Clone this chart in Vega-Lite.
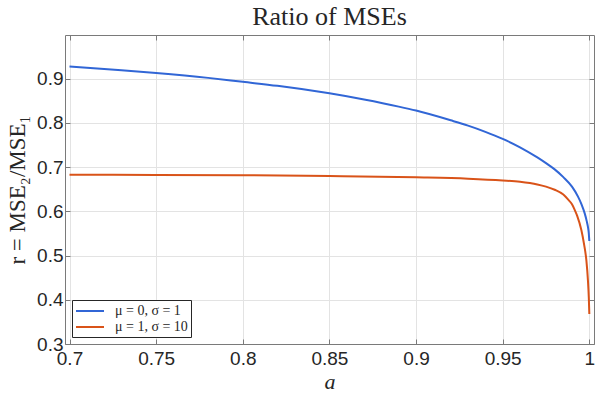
{
  "$schema": "https://vega.github.io/schema/vega-lite/v6.json",
  "autosize": "none",
  "width": 529,
  "height": 309,
  "padding": {"left": 65, "top": 35, "right": 1, "bottom": 52},
  "background": "white",
  "title": {"text": "Ratio of MSEs", "font": "Liberation Serif", "fontSize": 26, "fontWeight": "normal", "color": "#262626", "anchor": "middle", "offset": 5},
  "config": {
    "view": {"stroke": null},
    "axis": {"domainColor": "#7a7a7a", "tickColor": "#7a7a7a", "gridColor": "#e3e3e3", "labelColor": "#262626", "labelFont": "Liberation Sans", "labelFontSize": 19, "titleColor": "#262626", "tickSize": -5, "domainWidth": 1, "tickWidth": 1}
  },
  "data": {"values": [
    {"a": 0.70, "r": 0.928, "s": "μ = 0, σ = 1"},
    {"a": 0.72, "r": 0.922, "s": "μ = 0, σ = 1"},
    {"a": 0.75, "r": 0.913, "s": "μ = 0, σ = 1"},
    {"a": 0.78, "r": 0.902, "s": "μ = 0, σ = 1"},
    {"a": 0.80, "r": 0.893, "s": "μ = 0, σ = 1"},
    {"a": 0.82, "r": 0.884, "s": "μ = 0, σ = 1"},
    {"a": 0.85, "r": 0.867, "s": "μ = 0, σ = 1"},
    {"a": 0.87, "r": 0.853, "s": "μ = 0, σ = 1"},
    {"a": 0.89, "r": 0.837, "s": "μ = 0, σ = 1"},
    {"a": 0.90, "r": 0.828, "s": "μ = 0, σ = 1"},
    {"a": 0.92, "r": 0.806, "s": "μ = 0, σ = 1"},
    {"a": 0.93, "r": 0.794, "s": "μ = 0, σ = 1"},
    {"a": 0.94, "r": 0.780, "s": "μ = 0, σ = 1"},
    {"a": 0.95, "r": 0.764, "s": "μ = 0, σ = 1"},
    {"a": 0.96, "r": 0.745, "s": "μ = 0, σ = 1"},
    {"a": 0.97, "r": 0.722, "s": "μ = 0, σ = 1"},
    {"a": 0.975, "r": 0.709, "s": "μ = 0, σ = 1"},
    {"a": 0.98, "r": 0.695, "s": "μ = 0, σ = 1"},
    {"a": 0.985, "r": 0.6775, "s": "μ = 0, σ = 1"},
    {"a": 0.99, "r": 0.656, "s": "μ = 0, σ = 1"},
    {"a": 0.9934, "r": 0.634, "s": "μ = 0, σ = 1"},
    {"a": 0.9955, "r": 0.616, "s": "μ = 0, σ = 1"},
    {"a": 0.9973, "r": 0.596, "s": "μ = 0, σ = 1"},
    {"a": 0.9985, "r": 0.578, "s": "μ = 0, σ = 1"},
    {"a": 0.9992, "r": 0.565, "s": "μ = 0, σ = 1"},
    {"a": 0.9997, "r": 0.550, "s": "μ = 0, σ = 1"},
    {"a": 1.0, "r": 0.533, "s": "μ = 0, σ = 1"},
    {"a": 0.70, "r": 0.683, "s": "μ = 1, σ = 10"},
    {"a": 0.75, "r": 0.6825, "s": "μ = 1, σ = 10"},
    {"a": 0.80, "r": 0.682, "s": "μ = 1, σ = 10"},
    {"a": 0.85, "r": 0.680, "s": "μ = 1, σ = 10"},
    {"a": 0.90, "r": 0.677, "s": "μ = 1, σ = 10"},
    {"a": 0.93, "r": 0.674, "s": "μ = 1, σ = 10"},
    {"a": 0.95, "r": 0.670, "s": "μ = 1, σ = 10"},
    {"a": 0.96, "r": 0.667, "s": "μ = 1, σ = 10"},
    {"a": 0.97, "r": 0.661, "s": "μ = 1, σ = 10"},
    {"a": 0.975, "r": 0.656, "s": "μ = 1, σ = 10"},
    {"a": 0.98, "r": 0.649, "s": "μ = 1, σ = 10"},
    {"a": 0.985, "r": 0.638, "s": "μ = 1, σ = 10"},
    {"a": 0.9877, "r": 0.627, "s": "μ = 1, σ = 10"},
    {"a": 0.99, "r": 0.616, "s": "μ = 1, σ = 10"},
    {"a": 0.9915, "r": 0.604, "s": "μ = 1, σ = 10"},
    {"a": 0.993, "r": 0.590, "s": "μ = 1, σ = 10"},
    {"a": 0.9954, "r": 0.558, "s": "μ = 1, σ = 10"},
    {"a": 0.997, "r": 0.525, "s": "μ = 1, σ = 10"},
    {"a": 0.9983, "r": 0.489, "s": "μ = 1, σ = 10"},
    {"a": 0.9992, "r": 0.444, "s": "μ = 1, σ = 10"},
    {"a": 0.9997, "r": 0.405, "s": "μ = 1, σ = 10"},
    {"a": 1.0, "r": 0.368, "s": "μ = 1, σ = 10"}
  ]},
  "layer": [
    {
      "mark": {"type": "line", "strokeWidth": 2, "clip": true, "interpolate": "monotone"},
      "encoding": {
        "x": {"field": "a", "type": "quantitative", "scale": {"domain": [0.6974, 1.0027], "nice": false, "zero": false},
              "axis": {"values": [0.7, 0.75, 0.8, 0.85, 0.9, 0.95, 1], "format": "~g", "title": "a", "titleFont": "Liberation Serif", "titleFontStyle": "italic", "titleFontWeight": "normal", "titleFontSize": 22, "labelPadding": 10, "titlePadding": 3, "grid": true}},
        "y": {"field": "r", "type": "quantitative", "scale": {"domain": [0.3, 0.999], "nice": false, "zero": false},
              "axis": {"values": [0.3, 0.4, 0.5, 0.6, 0.7, 0.8, 0.9], "format": ".1f", "title": "r = MSE₂/MSE₁", "titleFont": "Liberation Serif", "titleFontWeight": "normal", "titleFontSize": 23, "labelPadding": 7, "titlePadding": 7, "grid": true}},
        "color": {"field": "s", "type": "nominal", "scale": {"domain": ["μ = 0, σ = 1", "μ = 1, σ = 10"], "range": ["#3166d6", "#d95319"]},
                  "legend": {"title": null, "orient": "bottom-left", "offset": 7, "symbolType": "M-2,0H2", "symbolSize": 196, "symbolOffset": 7, "symbolStrokeWidth": 2, "labelOffset": 17, "labelFont": "Liberation Serif", "labelFontSize": 14, "labelColor": "#262626", "strokeColor": "#262626", "fillColor": "white", "padding": 3, "rowPadding": 1}}
      }
    },
    {
      "mark": {"type": "line", "opacity": 0},
      "encoding": {
        "x": {"field": "a", "type": "quantitative", "axis": {"orient": "top", "values": [0.7, 0.75, 0.8, 0.85, 0.9, 0.95, 1], "labels": false, "grid": false, "title": null}},
        "y": {"field": "r", "type": "quantitative", "axis": {"orient": "right", "values": [0.3, 0.4, 0.5, 0.6, 0.7, 0.8, 0.9], "labels": false, "grid": false, "title": null}},
        "detail": {"field": "s"}
      }
    }
  ],
  "resolve": {"axis": {"x": "independent", "y": "independent"}}
}
